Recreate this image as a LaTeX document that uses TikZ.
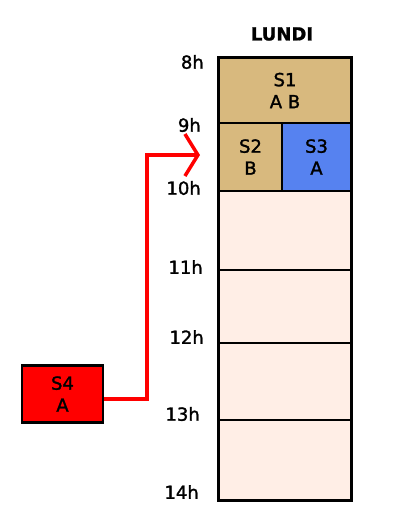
\documentclass[tikz,border=0pt]{standalone}
\usepackage{fontspec}
\setmainfont{DejaVu Sans}[FakeBold=1.5]
\newfontfamily\titrefont{DejaVu Sans Bold}[FakeBold=1]
\usetikzlibrary{arrows.meta}
\definecolor{seance}{RGB}{216,185,126}
\definecolor{seanceA}{RGB}{86,130,240}
\definecolor{libre}{RGB}{255,238,230}
\begin{document}
\begin{tikzpicture}[x=1pt, y=-1pt,
  every node/.style={font=\fontsize{18}{22}\selectfont},
  slot/.style={draw=black, line width=1.2pt, inner sep=0pt, align=center},
  hour/.style={anchor=east, inner sep=0pt}]
\useasboundingbox (0,0) rectangle (405,531);
\node[font=\fontsize{18}{22}\titrefont] (jour) at (282,34) {LUNDI};
% creneaux
\node[slot, fill=seance, minimum width=132pt, minimum height=65pt] (S1) at (285,90.5) {S1\\A B};
\node[slot, fill=seance, minimum width=63pt, minimum height=68pt] (S2) at (250.5,157) {S2\\B};
\node[slot, fill=seanceA, minimum width=69pt, minimum height=68pt] (S3) at (316.5,157) {S3\\A};
\node[slot, fill=libre, minimum width=132pt, minimum height=79pt] (L1) at (285,230.5) {};
\node[slot, fill=libre, minimum width=132pt, minimum height=73pt] (L2) at (285,306.5) {};
\node[slot, fill=libre, minimum width=132pt, minimum height=77pt] (L3) at (285,381.5) {};
\node[slot, fill=libre, minimum width=132pt, minimum height=80pt] (L4) at (285,460) {};
\draw[line width=2.5pt] (S1.north west) rectangle (L4.south east);
% heures
\node[hour] (h8) at (204,62) {8h};
\node[hour] (h9) at (201,125) {9h};
\node[hour] (h10) at (201,188) {10h};
\node[hour] (h11) at (203,267) {11h};
\node[hour] (h12) at (204,337) {12h};
\node[hour] (h13) at (200,414) {13h};
\node[hour] (h14) at (199,492) {14h};
% seance a placer
\node[slot, fill=red, line width=2.8pt, minimum width=81pt, minimum height=56.5pt] (S4) at (62.5,394) {S4\\A};
\coordinate (coude) at (147,155);
\coordinate (cible) at (200,155);
\draw[red, line width=3.5pt, -{Straight Barb[length=13pt,width=42pt]}] ([yshift=-5pt]S4.east) -| (coude) -- (cible);
\end{tikzpicture}
\end{document}
